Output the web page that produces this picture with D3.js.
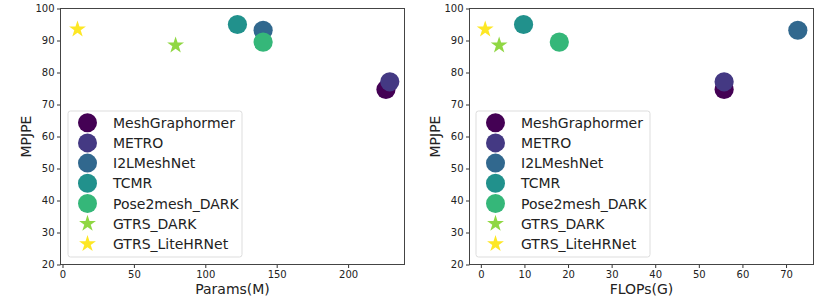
<!DOCTYPE html>
<html lang="en">
<head>
    <meta charset="UTF-8">
    <title>MPJPE vs Params / FLOPs</title>
    <script src="https://d3js.org/d3.v7.min.js"></script>
    <style>
        body { margin: 0; background: #fff; }
        text { font-family: 'DejaVu Sans', sans-serif; fill: #222; }
        .tick text { font-size: 10px; }
        .tick line { stroke: #333; }
        .axis path.domain { display: none; }
        text.axlabel { font-size: 14px; text-anchor: middle; }
        text.leg { font-size: 14px; }
    </style>
</head>
<body>
<svg height="305" width="830"></svg>
<script>
    const models = ["MeshGraphormer", "METRO", "I2LMeshNet", "TCMR", "Pose2mesh_DARK", "GTRS_DARK", "GTRS_LiteHRNet"];
    const shapes = ["circle", "circle", "circle", "circle", "circle", "star", "star"];
    const mpjpe  = [74.7, 77.1, 93.2, 95.0, 89.5, 88.5, 93.5];
    const params = [226.5, 229.2, 140.5, 122.5, 140.5, 79.2, 10.5];
    const flops  = [55.8, 55.8, 72.7, 9.8, 18.0, 4.2, 1.0];
    const yTicks = [20, 30, 40, 50, 60, 70, 80, 90, 100];
    const paramTicks = [0, 50, 100, 150, 200];
    const flopTicks = [0, 10, 20, 30, 40, 50, 60, 70];

    const colors = models.map((d, i) => d3.interpolateViridis(i / 6));
    const svg = d3.select("svg");
    const plotTop = 8.5, plotBottom = 264.5;

    const panels = [
        {xs: params, left: 60.5, right: 404.5, domain: [-1.4, 239.5], ticks: paramTicks, label: "Params(M)", legX: 68},
        {xs: flops, left: 469.5, right: 813.5, domain: [-2.6, 76.3], ticks: flopTicks, label: "FLOPs(G)", legX: 476}
    ];

    panels.forEach(p => {
        const x = d3.scaleLinear().domain(p.domain).range([p.left, p.right]);
        const y = d3.scaleLinear().domain([20, 100]).range([plotBottom, plotTop]);

        const g = svg.append("g");
        g.append("g").attr("class", "axis")
            .attr("transform", `translate(0,${plotBottom})`)
            .call(d3.axisBottom(x).tickValues(p.ticks).tickSize(3.5).tickPadding(2.5));
        g.append("g").attr("class", "axis")
            .attr("transform", `translate(${p.left},0)`)
            .call(d3.axisLeft(y).tickValues(yTicks).tickSize(3.5).tickPadding(2.5));

        // points, drawn in legend order
        models.forEach((m, i) => {
            const cx = x(p.xs[i]), cy = y(mpjpe[i]);
            if (shapes[i] === "circle") {
                g.append("circle").attr("cx", cx).attr("cy", cy).attr("r", 9.6)
                    .style("fill", colors[i]);
            } else {
                g.append("path").attr("d", d3.symbol(d3.symbolStar, 88)())
                    .attr("transform", `translate(${cx},${cy})`)
                    .style("fill", colors[i]);
            }
        });

        g.append("rect").attr("x", p.left).attr("y", plotTop)
            .attr("width", p.right - p.left).attr("height", plotBottom - plotTop)
            .style("fill", "none").style("stroke", "#444").style("stroke-width", 1);

        // legend
        const lg = g.append("g").attr("transform", `translate(${p.legX},111)`);
        lg.append("rect").attr("width", 174).attr("height", 146).attr("rx", 2.5)
            .style("fill", "#fff").style("fill-opacity", 0.8)
            .style("stroke", "#ddd").style("stroke-width", 1);
        models.forEach((m, i) => {
            const ry = 11.7 + i * 20.2;
            if (shapes[i] === "circle") {
                lg.append("circle").attr("cx", 19.5).attr("cy", ry).attr("r", 9.5)
                    .style("fill", colors[i]);
            } else {
                lg.append("path").attr("d", d3.symbol(d3.symbolStar, 88)())
                    .attr("transform", `translate(19.5,${ry})`)
                    .style("fill", colors[i]);
            }
            lg.append("text").attr("class", "leg")
                .attr("x", 45).attr("y", ry + 5).text(m);
        });

        g.append("text").attr("class", "axlabel")
            .attr("x", (p.left + p.right) / 2).attr("y", 294).text(p.label);
        g.append("text").attr("class", "axlabel")
            .attr("transform", `translate(${p.left - 30},${(plotTop + plotBottom) / 2}) rotate(-90)`)
            .text("MPJPE");
    });
</script>
</body>
</html>
